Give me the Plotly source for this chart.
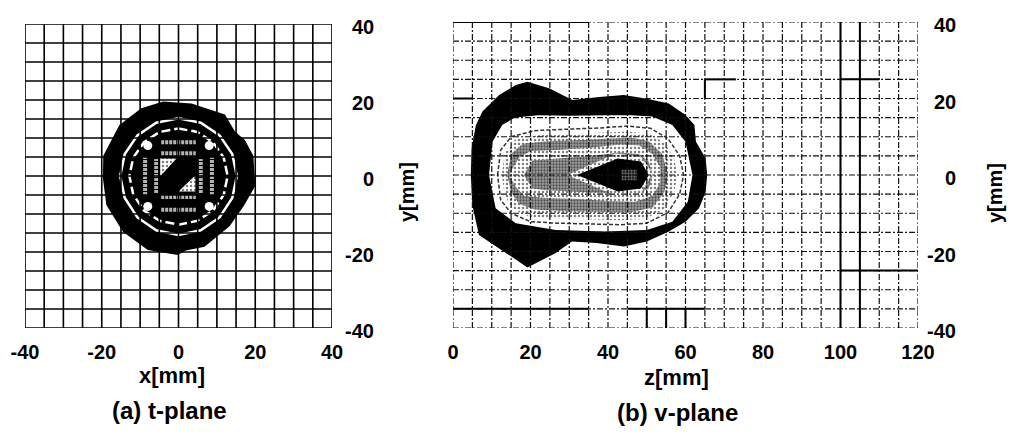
import plotly.graph_objects as go

# page body has an 8px margin, so the figure is 16px smaller than the window
OFF = 8
W, H = 1016 - 2 * OFF, 442 - 2 * OFF

# ---------------- ticks / grid ----------------
T_XTICKS = [-40, -20, 0, 20, 40]
T_YTICKS = [40, 20, 0, -20, -40]
V_XTICKS = [0, 20, 40, 60, 80, 100, 120]
V_YTICKS = [40, 20, 0, -20, -40]
T_GRID_X = list(range(-40, 41, 5))
T_GRID_Y = list(range(-40, 41, 5))
V_GRID_X = list(range(0, 121, 5))
V_GRID_Y = list(range(-40, 41, 5))

# ---------------- (a) t-plane contours ----------------
T_OUT_X = [-4.0, 3.4, 12.1, 14.7, 17.3, 19.5, 20.0, 17.0, 13.3, 6.8, 1.9, -0.2, -8.0, -14.5, -18.8, -19.7, -19.6, -15.4, -9.7]
T_OUT_Y = [19.6, 19.1, 16.2, 11.7, 9.5, 5.3, -2.6, -7.9, -13.2, -18.6, -19.6, -20.8, -19.5, -14.7, -7.6, -0.6, 5.3, 13.4, 17.8]

T_RING1_X = [0, 5.8, 10.7, 14.0, 15.2, 14.0, 10.7, 5.8, 0, -5.8, -10.7, -14.0, -15.2, -14.0, -10.7, -5.8, 0]
T_RING1_Y = [15.2, 14.0, 10.7, 5.8, 0, -5.8, -10.9, -14.3, -15.5, -14.3, -10.9, -5.8, 0, 5.8, 10.7, 14.0, 15.2]
T_RING2_X = [0, 4.9, 9.0, 11.8, 12.8, 11.8, 9.0, 4.9, 0, -4.9, -9.0, -11.8, -12.8, -11.8, -9.0, -4.9, 0]
T_RING2_Y = [12.5, 11.6, 8.9, 4.8, 0, -4.9, -9.1, -11.8, -12.8, -11.8, -9.1, -4.9, 0, 4.8, 8.9, 11.6, 12.5]

# grey halftone bars (segments, None separated)
T_BAR_X = [-8.7, -8.7, None, -5.8, -5.8, None, 5.8, 5.8, None, 8.7, 8.7, None,
           -4.5, 4.5, None, -4.5, 4.5, None, -4.5, 4.5, None, -4.5, 4.5]
T_BAR_Y = [-5.0, 5.0, None, -4.5, 4.5, None, -4.5, 4.5, None, -5.0, 5.0, None,
           8.9, 8.9, None, 6.0, 6.0, None, -5.5, -5.5, None, -8.9, -8.9]

T_TRI1_X = [-4.8, -0.5, -4.8]
T_TRI1_Y = [4.6, 4.6, -0.1]
T_TRI2_X = [4.4, 4.4, 0.0]
T_TRI2_Y = [0.2, -4.1, -4.1]

T_HOLE_X = [-8, 8, -8, 8]
T_HOLE_Y = [8, 8, -8, -8]

# ---------------- (b) v-plane contours ----------------
V_P1_Z = [19.2, 24.8, 30.8, 37.7, 44.1, 49.7, 55.7, 60.0, 62.3, 62.7, 65.2, 65.6, 65.2, 63.5, 60.0, 55.7, 50.0, 44.1,
          37.0, 30.7, 26.5, 19.2, 16.2, 11.9, 6.7, 5.0, 4.6, 4.8, 5.9, 7.6, 11.9, 16.2]
V_P1_Y = [24.4, 22.7, 19.6, 20.4, 20.9, 20.0, 18.7, 15.7, 13.1, 8.7, 4.4, 0.0, -4.4, -8.7, -12.2, -14.8, -17.4, -18.7,
          -17.8, -17.4, -20.4, -24.2, -22.1, -19.2, -15.7, -8.0, 0.0, 7.0, 13.0, 16.6, 20.9, 23.5]
V_P2_Z = [9.3, 10.2, 12.7, 16.0, 22.0, 30.0, 40.0, 46.0, 51.4, 56.6, 60.0, 61.8, 60.6, 56.6, 50.0, 39.4, 26.5, 16.2, 11.0]
V_P2_Y = [0.0, 8.7, 13.1, 15.0, 15.6, 15.5, 15.6, 15.6, 15.3, 13.1, 8.7, 0.0, -7.0, -12.2, -14.4, -14.8, -14.4, -12.6, -8.7]
V_P3_Z = [11.5, 12.3, 15.0, 21.0, 30.0, 38.0, 45.0, 51.0, 55.5, 58.5, 59.5, 58.5, 55.5, 50.0, 43.0, 35.0, 27.0, 20.0, 15.0, 12.3, 11.5]
V_P3_Y = [0.0, 6.5, 10.0, 11.6, 12.0, 12.3, 12.8, 12.2, 9.5, 5.0, 0.0, -5.0, -9.8, -12.6, -13.0, -12.8, -12.6, -12.2, -10.0, -6.5, 0.0]
V_P4_Z = [12.6, 13.4, 16.0, 22.0, 30.0, 38.0, 45.0, 50.5, 54.5, 57.0, 58.0, 57.0, 54.5, 49.5, 43.0, 35.0, 27.0, 20.0, 15.5, 13.4]
V_P4_Y = [0.0, 6.0, 9.2, 10.4, 10.7, 11.0, 11.4, 10.8, 8.5, 4.5, 0.0, -4.5, -9.0, -11.5, -11.8, -11.6, -11.4, -11.0, -9.0, -5.5]
V_P5_Z = [14.0, 15.0, 18.0, 25.0, 32.0, 40.0, 46.0, 50.5, 54.0, 55.5, 54.5, 51.5, 45.5, 37.0, 28.0, 21.0, 17.0, 15.0]
V_P5_Y = [0.0, 5.5, 8.2, 8.9, 9.1, 9.5, 9.8, 8.8, 5.5, 0.0, -4.5, -8.5, -9.8, -9.6, -9.4, -9.0, -7.5, -4.5]
V_P6_Z = [14.4, 17.0, 20.0, 28.0, 36.0, 43.0, 48.0, 51.5, 53.5, 53.5, 51.5, 47.0, 40.0, 32.0, 24.0, 18.5, 16.5]
V_P6_Y = [0.0, 4.5, 6.3, 6.6, 7.2, 8.0, 7.8, 5.5, 2.0, -2.0, -5.5, -7.0, -6.8, -6.3, -6.0, -5.5, -3.5]
V_P7_Z = [18.3, 20.5, 28.0, 36.0, 43.0, 48.0, 50.5, 51.5, 50.5, 47.5, 40.0, 32.0, 24.0, 20.5]
V_P7_Y = [0.0, 3.8, 4.4, 5.0, 5.9, 5.5, 3.5, 0.0, -3.5, -5.0, -4.8, -4.4, -4.0, -3.5]
V_P8_Z = [29.5, 42.0, 48.5, 51.5, 48.5, 42.0]
V_P8_Y = [0.0, 5.6, 4.8, 0.5, -4.8, -5.4]
V_P9_Z = [32.0, 42.5, 48.5, 50.5, 48.5, 42.5]
V_P9_Y = [0.0, 4.3, 3.5, 0.0, -3.5, -4.3]
V_P10_Z = [43.5, 47.5, 47.5, 43.5]
V_P10_Y = [1.4, 1.4, -1.4, -1.4]

# solid (heavier) grid segments visible in the scanned v-plane grid
V_SOLID_Z = [100, 100, None, 105, 105, None, 0, 35, None, 45, 65, None, 50, 50, None, 55, 55, None, 60, 60, None,
             65, 73, None, 65, 65, None, 100, 110, None, 0, 5, None, 100, 120, None, 0, 35]
V_SOLID_Y = [-40, 40, None, -40, 40, None, -35, -35, None, -35, -35, None, -35, -40, None, -35, -40, None, -35, -40, None,
             25, 25, None, 25, 20, None, 25, 25, None, 20, 20, None, -25, -25, None, 40, 40]

# source markers (triangles) at y = +/-8
TRI_Y = [8, -8]
TRI_Z = [-1.6, -1.6]

FONT = "Liberation Sans, Arial, sans-serif"


def fx(px):
    return (px - OFF) / W


def fy(py):
    return 1 - (py - OFF) / H


fig = go.Figure()


def closed(xs, ys):
    return list(xs) + [xs[0]], list(ys) + [ys[0]]


def poly(xs, ys, xa, ya, color=None, pattern=None):
    cx, cy = closed(xs, ys)
    kw = dict(x=cx, y=cy, xaxis=xa, yaxis=ya, mode="lines", fill="toself",
              line=dict(width=0, color="rgba(0,0,0,0)"), hoverinfo="skip", showlegend=False)
    if pattern is None:
        kw["fillcolor"] = color
    else:
        kw["fillcolor"] = pattern.get("bgcolor", "white")
        kw["fillpattern"] = pattern
    fig.add_trace(go.Scatter(**kw))


LIGHT = dict(shape=".", fgcolor="black", bgcolor="white", size=4, solidity=0.3)
DARK = dict(shape=".", fgcolor="black", bgcolor="#a0a0a0", size=3, solidity=0.45)
CORE = dict(shape=".", fgcolor="#cfcfcf", bgcolor="#202020", size=3, solidity=0.35)

# ---- t-plane ----
poly(T_OUT_X, T_OUT_Y, "x", "y", color="black")
fig.add_trace(go.Scatter(x=T_RING1_X, y=T_RING1_Y, xaxis="x", yaxis="y", mode="lines",
                         line=dict(color="white", width=2.5), hoverinfo="skip", showlegend=False))
fig.add_trace(go.Scatter(x=T_RING2_X, y=T_RING2_Y, xaxis="x", yaxis="y", mode="lines",
                         line=dict(color="white", width=2.5, dash="9px,4px"), hoverinfo="skip", showlegend=False))
fig.add_trace(go.Scatter(x=T_BAR_X, y=T_BAR_Y, xaxis="x", yaxis="y", mode="lines",
                         line=dict(color="#b4b4b4", width=4, dash="3px,1px"), hoverinfo="skip", showlegend=False))
poly(T_TRI1_X, T_TRI1_Y, "x", "y", pattern=LIGHT)
poly(T_TRI2_X, T_TRI2_Y, "x", "y", pattern=LIGHT)
fig.add_trace(go.Scatter(x=T_HOLE_X, y=T_HOLE_Y, xaxis="x", yaxis="y", mode="markers",
                         marker=dict(symbol="circle", size=9, color="white", line=dict(width=0)),
                         hoverinfo="skip", showlegend=False))

# ---- v-plane ----
poly(V_P1_Z, V_P1_Y, "x2", "y2", color="black")
poly(V_P2_Z, V_P2_Y, "x2", "y2", color="white")
fig.add_trace(go.Scatter(x=V_P3_Z, y=V_P3_Y, xaxis="x2", yaxis="y2", mode="lines",
                         line=dict(color="#333", width=1.5, dash="4px,2px"), hoverinfo="skip", showlegend=False))
poly(V_P4_Z, V_P4_Y, "x2", "y2", pattern=LIGHT)
poly(V_P5_Z, V_P5_Y, "x2", "y2", pattern=DARK)
poly(V_P6_Z, V_P6_Y, "x2", "y2", pattern=LIGHT)
poly(V_P7_Z, V_P7_Y, "x2", "y2", pattern=DARK)
poly(V_P8_Z, V_P8_Y, "x2", "y2", pattern=LIGHT)
poly(V_P9_Z, V_P9_Y, "x2", "y2", color="black")
poly(V_P10_Z, V_P10_Y, "x2", "y2", pattern=CORE)


# ---- grids on top ----
def grid_xy(gx, gy):
    xs, ys = [], []
    for v in gx:
        xs += [v, v, None]
        ys += [gy[0], gy[-1], None]
    for v in gy:
        xs += [gx[0], gx[-1], None]
        ys += [v, v, None]
    return xs, ys


gx, gy = grid_xy(T_GRID_X, T_GRID_Y)
fig.add_trace(go.Scatter(x=gx, y=gy, xaxis="x", yaxis="y", mode="lines",
                         line=dict(color="black", width=1.6), hoverinfo="skip", showlegend=False))
gx, gy = grid_xy(V_GRID_X, V_GRID_Y)
fig.add_trace(go.Scatter(x=gx, y=gy, xaxis="x2", yaxis="y2", mode="lines",
                         line=dict(color="#111", width=1.2, dash="6px,2px,2px,2px"), hoverinfo="skip", showlegend=False))
fig.add_trace(go.Scatter(x=V_SOLID_Z, y=V_SOLID_Y, xaxis="x2", yaxis="y2", mode="lines",
                         line=dict(color="black", width=2), hoverinfo="skip", showlegend=False))

fig.add_trace(go.Scatter(x=TRI_Z, y=TRI_Y, xaxis="x2", yaxis="y2", mode="markers", cliponaxis=False,
                         marker=dict(symbol="triangle-right", size=20, color="black", line=dict(width=0)),
                         hoverinfo="skip", showlegend=False))

tickfont = dict(family=FONT, size=20, color="black", weight="bold")

fig.update_layout(
    width=W, height=H, margin=dict(l=0, r=0, t=0, b=0, pad=0, autoexpand=False),
    paper_bgcolor="white", plot_bgcolor="white", showlegend=False,
    xaxis=dict(domain=[fx(25), fx(332)], range=[-40, 40], anchor="y", showgrid=False, zeroline=False,
               showline=False, ticks="", tickvals=T_XTICKS, ticktext=[str(v) for v in T_XTICKS],
               tickfont=tickfont, ticklabelstandoff=10, fixedrange=True, automargin=False),
    yaxis=dict(domain=[fy(328), fy(24)], range=[-40, 40], anchor="x", showgrid=False, zeroline=False,
               showline=False, ticks="", showticklabels=False, fixedrange=True, automargin=False),
    xaxis2=dict(domain=[fx(453), fx(918)], range=[0, 120], anchor="y2", showgrid=False, zeroline=False,
                showline=False, ticks="", tickvals=V_XTICKS, ticktext=[str(v) for v in V_XTICKS],
                tickfont=tickfont, ticklabelstandoff=10, fixedrange=True, automargin=False),
    yaxis2=dict(domain=[fy(328), fy(22)], range=[-40, 40], anchor="x2", showgrid=False, zeroline=False,
                showline=False, ticks="", showticklabels=False, fixedrange=True, automargin=False),
)

ann = []
for v in T_YTICKS:
    ann.append(dict(x=fx(376), xref="paper", y=v, yref="y", text=str(v), showarrow=False,
                    xanchor="right", yanchor="middle", yshift=-3, font=tickfont))
for v in V_YTICKS:
    ann.append(dict(x=fx(958), xref="paper", y=v, yref="y2", text=str(v), showarrow=False,
                    xanchor="right", yanchor="middle", yshift=-3, font=tickfont))

titlefont = dict(family=FONT, size=22, color="black", weight="bold")
sidefont = dict(family=FONT, size=20, color="black", weight="bold")
capfont = dict(family=FONT, size=24, color="black", weight="bold")


def pa(text, px, py, font, angle=0):
    ann.append(dict(x=fx(px), y=fy(py), xref="paper", yref="paper", text=text, showarrow=False,
                    xanchor="center", yanchor="middle", textangle=angle, font=font))


pa("x[mm]", 172, 375, titlefont)
pa("z[mm]", 676, 377, titlefont)
pa("(a) t-plane", 169, 410, capfont)
pa("(b) v-plane", 677, 412, capfont)
pa("y[mm]", 995, 193, sidefont, -90)
pa("y[mm]", 407, 192, sidefont, -90)

fig.update_layout(annotations=ann)
fig.write_html("out.html")
